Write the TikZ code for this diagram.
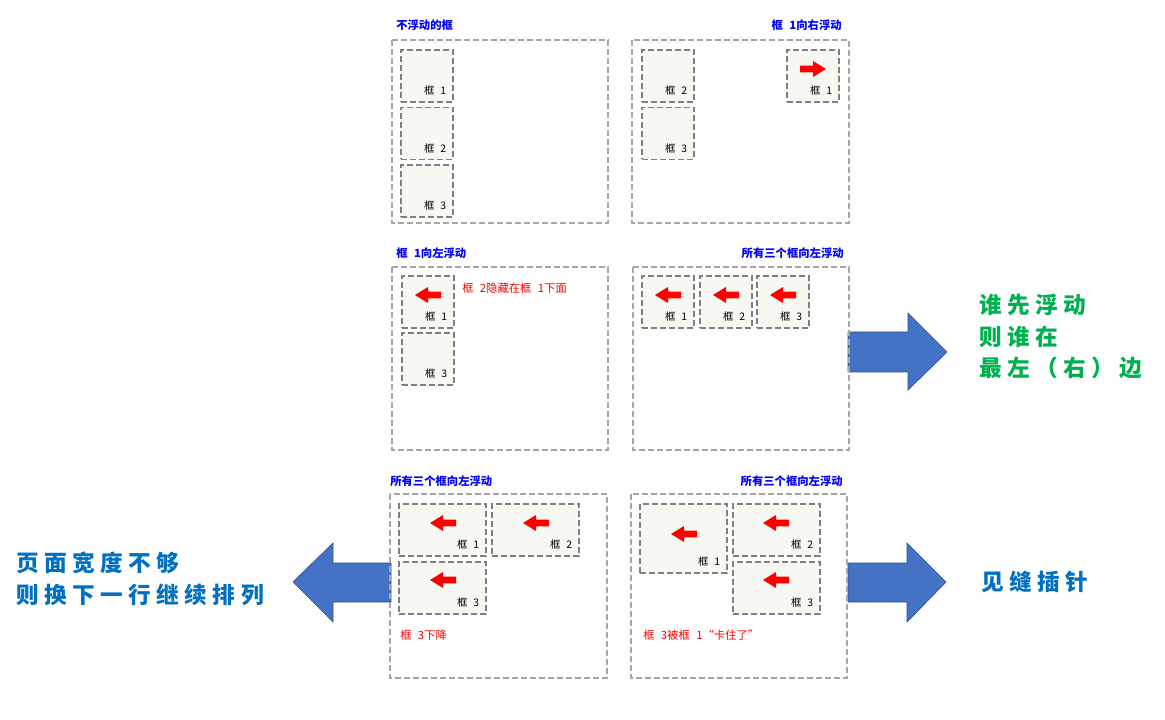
\documentclass[tikz,border=0pt]{standalone}
\usepackage{fontspec}
\setmainfont{Noto Sans CJK SC}
\newfontfamily\bigzh[LetterSpace=24]{Noto Sans CJK SC}
\newfontfamily\smallzh[WordSpace=2.5]{Noto Sans CJK SC}
\usepackage{tikz}
\usetikzlibrary{positioning}

\definecolor{boxfill}{HTML}{F8F8F2}
\definecolor{boxline}{HTML}{7F7F7F}
\definecolor{panelline}{HTML}{A6A6A6}
\definecolor{bigblue}{HTML}{4472C4}
\definecolor{bigedge}{HTML}{2F528F}
\definecolor{tipgreen}{HTML}{00B050}
\definecolor{tipblue}{HTML}{0070C0}

\tikzset{
  panel/.style={draw=panelline, line width=1pt, dash pattern=on 4.5pt off 2.25pt},
  kbox/.style={draw=boxline, fill=boxfill, line width=1.1pt, dash pattern=on 4.5pt off 2.25pt,
    anchor=north west, inner sep=0pt, outer sep=0pt},
  klabel/.style={inner sep=0pt, font=\smallzh\fontsize{7.8}{9}\selectfont},
  ptitle/.style={inner sep=0pt, text=blue, font=\smallzh\bfseries\fontsize{8.5}{10}\selectfont},
  note/.style={inner sep=0pt, text=red, font=\smallzh\fontsize{8.5}{10}\selectfont, anchor=west},
  bigarrow/.style={fill=bigblue, draw=bigedge, line width=0.5pt},
  bigtext/.style={inner sep=0pt, anchor=west, align=left,
    font=\bigzh\bfseries\fontsize{17}{23.6}\selectfont}
}

% box with its label in the lower right corner: name, x, y, width, height, label
\newcommand{\kuang}[6]{%
  \node[kbox, minimum width=#4*0.75pt, minimum height=#5*0.75pt] (#1) at (#2,#3) {};
  \node[klabel, above left=4.5pt and 5pt of #1.south east] (#1-t) {#6};}
% red block arrow: x, y, direction (1 right, -1 left)
\newcommand{\hongjian}[3]{%
  \fill[red, shift={(#1,#2)}, xscale=#3] (13,0) -- (0,-8) -- (0,-3.3) -- (-13,-3.3)
    -- (-13,3.3) -- (0,3.3) -- (0,8) -- cycle;}

\begin{document}
\begin{tikzpicture}[x=0.75pt,y=-0.75pt]
\fill[white] (0,0) rectangle (1165,720);
\useasboundingbox (0,0) rectangle (1165,720);

% big arrows
\filldraw[bigarrow] (848,332) -- (908,332) -- (908,313) -- (947,352) -- (908,390) -- (908,372) -- (848,372) -- cycle;
\filldraw[bigarrow] (848,563) -- (907,563) -- (907,543) -- (946,582) -- (907,622) -- (907,602) -- (848,602) -- cycle;
\filldraw[bigarrow] (391,563) -- (333,563) -- (333,543) -- (293,582) -- (333,622) -- (333,602) -- (391,602) -- cycle;

% panel 1
\draw[panel] (392,40) rectangle (608,223);
\node[ptitle, anchor=west] (t1) at (396,25) {不浮动的框};
\kuang{a1}{401}{50}{52}{52}{框 1}
\kuang{a2}{401}{107.5}{52}{52}{框 2}
\kuang{a3}{401}{165}{52}{52}{框 3}

% panel 2
\draw[panel] (632,40) rectangle (849,223);
\node[ptitle, anchor=east] (t2) at (842,25) {框 1向右浮动};
\kuang{b2}{642}{50}{52}{52}{框 2}
\kuang{b3}{642}{107.5}{52}{52}{框 3}
\kuang{b1}{787}{50}{52}{52}{框 1}
\hongjian{813}{69}{1}

% panel 3
\draw[panel] (392,267) rectangle (608,450);
\node[ptitle, anchor=west] (t3) at (396,253) {框 1向左浮动};
\kuang{c1}{402}{276}{52}{52}{框 1}
\kuang{c3}{402}{333}{52}{52}{框 3}
\hongjian{428}{295}{-1}
\node[note] (n3) at (462,288) {框 2隐藏在框 1下面};

% panel 4
\draw[panel] (633,267) rectangle (849,450);
\node[ptitle, anchor=east] (t4) at (844,253) {所有三个框向左浮动};
\kuang{d1}{642}{276}{52}{52}{框 1}
\kuang{d2}{700}{276}{52}{52}{框 2}
\kuang{d3}{757}{276}{52}{52}{框 3}
\hongjian{668}{295}{-1}
\hongjian{726}{295}{-1}
\hongjian{783}{295}{-1}

% panel 5
\draw[panel] (390,494) rectangle (607,678);
\node[ptitle, anchor=west] (t5) at (390,481) {所有三个框向左浮动};
\kuang{e1}{399}{504}{87}{52}{框 1}
\kuang{e2}{492}{504}{87}{52}{框 2}
\kuang{e3}{399}{562}{87}{52}{框 3}
\hongjian{443}{523}{-1}
\hongjian{536}{523}{-1}
\hongjian{443}{580}{-1}
\node[note] (n5) at (400,635) {框 3下降};

% panel 6
\draw[panel] (631,494) rectangle (847,678);
\node[ptitle, anchor=east] (t6) at (843,481) {所有三个框向左浮动};
\kuang{f1}{640}{504}{87}{69}{框 1}
\kuang{f2}{733}{504}{87}{52}{框 2}
\kuang{f3}{733}{562}{87}{52}{框 3}
\hongjian{684}{534}{-1}
\hongjian{776}{523}{-1}
\hongjian{776}{580}{-1}
\node[note] (n6) at (643,635) {框 3被框 1“卡住了”};

% side texts
\node[bigtext, text=tipgreen] (who) at (979,337) {谁先浮动\\则谁在\\最左（右）边};
\node[bigtext, text=tipblue] (wrap) at (16,579) {页面宽度不够\\则换下一行继续排列};
\node[bigtext, text=tipblue] (gap) at (981,582) {见缝插针};
\end{tikzpicture}
\end{document}
